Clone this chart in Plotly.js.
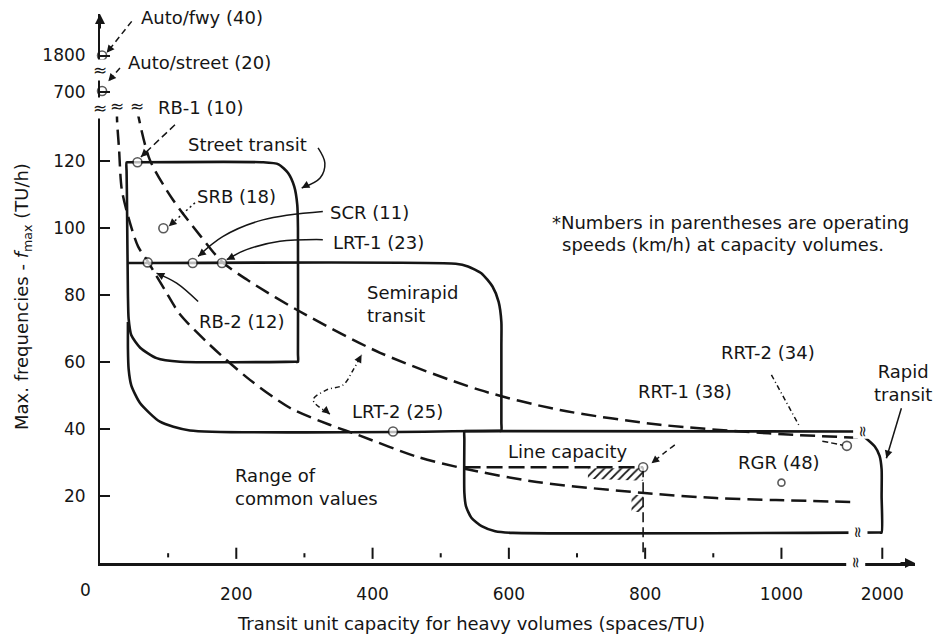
<!DOCTYPE html>
<html><head><meta charset="utf-8">
<script src="https://cdn.plot.ly/plotly-3.0.1.min.js"></script>
<style>html,body{margin:0;padding:0;background:#fff;}#chart{width:937px;height:641px;}</style>
</head><body><div id="chart"></div>
<script>
// ---------------- data ----------------
const xTickVals = [200, 400, 600, 800, 1000, 1148];
const xTickText = ['200', '400', '600', '800', '1000', '2000'];
const xMinorTicks = [100, 300, 500, 700, 900];
const yTickVals = [20, 40, 60, 80, 100, 120, 140.8, 151.6];
const yTickText = ['20', '40', '60', '80', '100', '120', '700', '1800'];

// upper dashed curve (through LRT-1, ends as RRT-1)
const curveUpperX = [54, 73, 107, 147, 179, 216, 290, 411, 557, 675, 822, 968, 1017, 1112];
const curveUpperY = [135.8, 120.5, 108.5, 97.8, 90.0, 84.6, 75.5, 62.8, 51.7, 45.7, 41.3, 38.9, 38.3, 37.4];
// lower dashed curve (through RB-2, LRT-2 region)
const curveLowerX = [25, 25, 28, 32, 44, 56, 70.4, 95, 117, 161, 220, 279, 337, 378, 466, 537, 641, 799, 904, 992, 1110];
const curveLowerY = [136, 132.4, 123.5, 111.5, 101.6, 94.5, 90.0, 81.6, 74.4, 65.2, 54.7, 46.3, 41.3, 38.3, 31.7, 28.1, 24.2, 20.9, 19.4, 18.8, 18.2];

// Street transit region outline
const streetX = [39, 42, 239, 262, 276, 285, 289.5, 290.5, 290.5, 290.5, 287, 117.4, 83, 59, 46, 42, 41, 39.5, 39, 39, 42];
const streetY = [119.7, 119.7, 119.7, 119.1, 116.5, 112.5, 107, 100, 62.5, 60.1, 60.1, 60.1, 61.2, 64.3, 68, 73, 80, 110, 117, 119.7, 119.7];
// Semirapid transit region outline
const semiX = [40, 44, 522, 540, 560, 576, 585, 589, 589, 589, 589, 586, 132, 88, 58.7, 46, 42, 41, 41];
const semiY = [89.6, 89.6, 89.4, 88.6, 86.5, 82.6, 78, 72, 65, 42, 39.5, 39.5, 39.6, 42.2, 47.8, 53, 58, 64, 72];
// Rapid transit region outline (after the break at 1000/2000)
const rapidX = [1121, 1137, 1144, 1147, 1147, 1147, 1144, 606, 580, 560, 545, 537, 534.7, 534.7, 534.7, 537, 1116];
const rapidY = [37.8, 34.8, 32, 28, 20, 9.1, 9.1, 9.0, 9.5, 11, 13.5, 17, 21, 37, 39.4, 39.4, 39.3];

// line capacity
const lineCapX = [535, 797];
const lineCapY = [28.6, 28.6];
const lineCapDropX = [797, 797];
const lineCapDropY = [28.6, 2];
const hatchAX = [716, 797, 797, 716];
const hatchAY = [28.3, 28.3, 24.6, 25.2];
const hatchBX = [780, 797, 797, 780];
const hatchBY = [20.5, 20.2, 15.2, 15.2];

// operating points
const pointNames = ['Auto/fwy', 'Auto/street', 'RB-1', 'SRB', 'SCR', 'LRT-1', 'RB-2', 'LRT-2', 'Line capacity', 'RGR', 'RRT-2'];
const pointX = [3, 3, 55, 93, 136, 179, 70, 430, 797, 1000, 1096];
const pointY = [151.6, 141.0, 119.7, 100, 89.6, 89.6, 89.8, 39.3, 28.6, 24, 35];

// labels
const labelText = ['Auto/fwy (40)', 'Auto/street (20)', 'RB-1 (10)', 'Street transit', 'SRB (18)', 'SCR (11)',
  'LRT-1 (23)', 'RB-2 (12)', 'LRT-2 (25)', 'RRT-2 (34)', 'RRT-1 (38)', 'Rapid<br>transit', 'RGR (48)', 'Line capacity'];
const labelX = [149, 146.7, 148.2, 217, 200.5, 396, 409.3, 208.3, 436.4, 980, 858, 1178.6, 996, 686.5];
const labelY = [163.1, 149.6, 136.2, 125, 109.5, 104.6, 95.7, 72.0, 45.2, 62.8, 51.1, 53.7, 29.9, 33.2];
const leftLabelText = ['Semirapid<br>transit', 'Range of<br>common values',
  '*Numbers in parentheses are operating', 'speeds (km/h) at capacity volumes.'];
const leftLabelX = [388.7, 195, 660, 674.8];
const leftLabelY = [77.3, 22.8, 101.6, 95.1];

// ---------------- drawing ----------------
const INK = '#151515';
const XMAX = 1196, YMAX = 164;
const M = {l: 100, r: 22, t: 14, b: 78};
const SX = (937 - M.l - M.r) / XMAX, SY = (641 - M.t - M.b) / YMAX;

function line(xs, ys, opts) {
  return Object.assign({type: 'scatter', mode: 'lines', x: xs, y: ys, hoverinfo: 'skip', showlegend: false,
    line: Object.assign({color: INK, width: 2.6}, opts || {})});
}
const traces = [];
// hatches
[[hatchAX, hatchAY], [hatchBX, hatchBY]].forEach(([hx, hy]) => traces.push({
  type: 'scatter', mode: 'lines', x: hx, y: hy, fill: 'toself', fillcolor: 'white',
  fillpattern: {shape: '/', fgcolor: INK, bgcolor: 'white', size: 6, solidity: 0.3},
  line: {width: 0, color: 'rgba(0,0,0,0)'}, hoverinfo: 'skip', showlegend: false}));
// region outlines
traces.push(line(streetX, streetY, {shape: 'spline', smoothing: 0.6}));
traces.push(line(semiX, semiY, {shape: 'spline', smoothing: 0.6}));
traces.push(line(rapidX, rapidY, {shape: 'spline', smoothing: 0.6}));
// dashed curves
traces.push(line(curveUpperX, curveUpperY, {shape: 'spline', smoothing: 0.8, dash: '15px,7px', width: 2.5}));
traces.push(line(curveLowerX, curveLowerY, {shape: 'spline', smoothing: 0.8, dash: '15px,7px', width: 2.5}));
traces.push(line(lineCapX, lineCapY, {dash: '16px,6px', width: 2.3}));
traces.push(line(lineCapDropX, lineCapDropY, {dash: '10px,5px', width: 1.6}));

// leader lines
const leaders = [
  {x: [46.5, 9.8], y: [161.8, 152.4], dash: '6px,4px', head: 'end'},
  {x: [29.3, 12.2], y: [147.9, 143.9], dash: '6px,4px', head: 'end'},
  {x: [110, 60], y: [130.9, 121.3], dash: '7px,4px', head: 'end'},
  {x: [320, 330, 323, 296], y: [124, 119.5, 115, 112], dash: 'solid', head: 'end'},
  {x: [139.4, 101], y: [107.6, 100.6], dash: '2px,3px', head: 'end'},
  {x: [327, 239, 180, 144], y: [105.0, 102.5, 97.5, 91.6], dash: 'solid', head: 'end'},
  {x: [327, 264, 215, 186], y: [96.6, 96.1, 93.6, 90.6], dash: 'solid', head: 'end'},
  {x: [144, 112.5, 83], y: [78.1, 83.6, 86.6], dash: 'solid', head: 'end'},
  {x: [337.4, 312.9, 332.6, 356.9, 371.6, 383.9], y: [44.5, 48.7, 51.7, 53.2, 57.7, 62.2], dash: '5px,3px,1px,3px', head: 'both'},
  {x: [843.5, 830, 809.3], y: [35.3, 33.2, 29.8], dash: '6px,4px', head: 'end'},
  {x: [985.3, 1026.8], y: [56.2, 40.7], dash: '5px,3px,1px,3px', head: 'none'},
  {x: [1176, 1154], y: [46.2, 31.3], dash: 'solid', head: 'end'},
  {x: [1060, 1090], y: [36.4, 35.2], dash: '6px,3px', head: 'none'}
];
leaders.forEach(L => traces.push(line(L.x, L.y, {shape: L.x.length > 2 ? 'spline' : 'linear', dash: L.dash, width: 1.5})));

// detached x ticks
traces.push({type: 'scatter', mode: 'markers', x: xTickVals, y: xTickVals.map(() => 2.9), cliponaxis: false,
  marker: {symbol: 'line-ns', size: 8, line: {color: INK, width: 2}}, hoverinfo: 'skip', showlegend: false});
traces.push({type: 'scatter', mode: 'markers', x: xMinorTicks, y: xMinorTicks.map(() => 2.3), cliponaxis: false,
  marker: {symbol: 'line-ns', size: 3, line: {color: INK, width: 2}}, hoverinfo: 'skip', showlegend: false});

// points
traces.push({type: 'scatter', mode: 'markers', x: pointX, y: pointY, text: pointNames, cliponaxis: false,
  hovertemplate: '%{text}<extra></extra>', showlegend: false,
  marker: {symbol: 'circle', size: pointNames.map(n => n === 'RGR' ? 7 : 9), color: 'white', line: {color: INK, width: 1.6}}});

function head(xs, ys, atEnd) {
  const n = xs.length;
  const i0 = atEnd ? n - 2 : 1, i1 = atEnd ? n - 1 : 0;
  const dx = (xs[i0] - xs[i1]) * SX, dy = -(ys[i0] - ys[i1]) * SY;
  const L = Math.hypot(dx, dy) || 1;
  return {x: xs[i1], y: ys[i1], xref: 'x', yref: 'y', text: '', showarrow: true, arrowhead: 2, arrowsize: 1.1,
    arrowwidth: 1.4, arrowcolor: INK, standoff: 0, ax: dx / L * 9, ay: dy / L * 9};
}

const ann = [];
labelText.forEach((t, i) => ann.push({x: labelX[i], y: labelY[i], xref: 'x', yref: 'y', text: t, showarrow: false,
  xanchor: 'center', yanchor: 'middle', align: 'center', font: {size: 18, color: INK}}));
leftLabelText.forEach((t, i) => ann.push({x: leftLabelX[i], y: leftLabelY[i], xref: 'x', yref: 'y', text: t, showarrow: false,
  xanchor: 'left', yanchor: 'middle', align: 'left', font: {size: 18, color: INK}}));
leaders.forEach(L => {
  if (L.head === 'end' || L.head === 'both') ann.push(head(L.x, L.y, true));
  if (L.head === 'both') ann.push(head(L.x, L.y, false));
});
// axis arrows
ann.push({x: XMAX, y: 0, xref: 'x', yref: 'y', text: '', showarrow: true, arrowhead: 2, arrowsize: 1, arrowwidth: 2,
  arrowcolor: INK, ax: -16, ay: 0, standoff: 0});
ann.push({x: 0, y: YMAX, xref: 'x', yref: 'y', text: '', showarrow: true, arrowhead: 2, arrowsize: 1, arrowwidth: 2,
  arrowcolor: INK, ax: 0, ay: 16, standoff: 0});
// scale breaks
const brk = (x, y, rot, sz) => ({x: x, y: y, xref: 'x', yref: 'y', text: '≈', showarrow: false, textangle: rot || 0,
  bgcolor: 'white', borderpad: 0, font: {size: sz || 17, color: INK}});
ann.push(brk(0, 136), brk(0, 147.4), brk(25, 136.5), brk(54, 136.5));
ann.push(brk(1109, 0, 90, 15), brk(1118.5, 39.3, 90, 15), brk(1113, 9.1, 90, 15));
// axis titles and the offset zero label
ann.push({xref: 'paper', yref: 'paper', x: (471 - M.l) / (937 - M.l - M.r), y: -60 / (641 - M.t - M.b),
  text: 'Transit unit capacity for heavy volumes (spaces/TU)', showarrow: false, xanchor: 'center', yanchor: 'middle',
  font: {size: 18, color: INK}});
ann.push({xref: 'paper', yref: 'paper', x: -77 / (937 - M.l - M.r), y: 266 / (641 - M.t - M.b), textangle: -90,
  text: 'Max. frequencies - <i>f</i><sub>max</sub> (TU/h)', showarrow: false, xanchor: 'center', yanchor: 'middle',
  font: {size: 18, color: INK}});
ann.push({xref: 'paper', yref: 'paper', x: -15 / (937 - M.l - M.r), y: -27 / (641 - M.t - M.b), text: '0',
  showarrow: false, xanchor: 'center', yanchor: 'middle', font: {size: 17, color: INK}});

const layout = {
  width: 937, height: 641, margin: M, paper_bgcolor: 'white', plot_bgcolor: 'white', showlegend: false,
  font: {family: 'DejaVu Sans, sans-serif', color: INK},
  xaxis: {range: [0, XMAX], showgrid: false, zeroline: false, showline: true, linewidth: 2.5, linecolor: INK,
    ticks: '', tickvals: xTickVals, ticktext: xTickText, tickfont: {size: 17, color: INK}, ticklabelstandoff: 14, fixedrange: true},
  yaxis: {range: [0, YMAX], showgrid: false, zeroline: false, showline: true, linewidth: 2, linecolor: INK,
    ticks: 'inside', ticklen: 10, tickwidth: 2, tickcolor: INK, tickvals: yTickVals, ticktext: yTickText,
    tickfont: {size: 17, color: INK}, ticklabelstandoff: 9, fixedrange: true},
  annotations: ann
};
Plotly.newPlot('chart', traces, layout, {displayModeBar: false, staticPlot: true});
</script></body></html>
